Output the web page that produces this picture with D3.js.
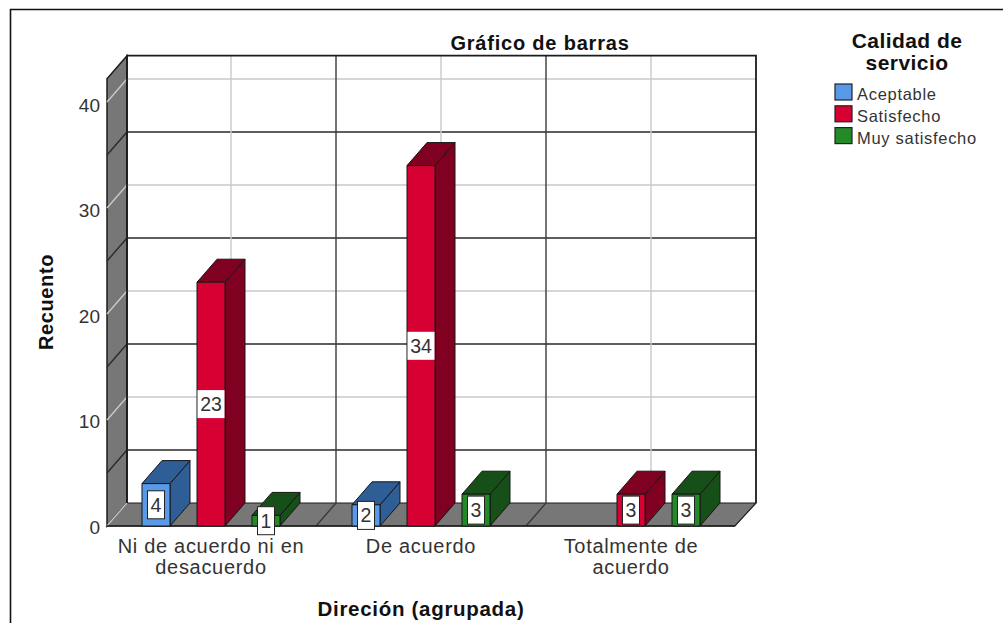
<!DOCTYPE html>
<html><head><meta charset="utf-8">
<script src="https://cdnjs.cloudflare.com/ajax/libs/d3/7.8.5/d3.min.js"></script>
<style>html,body{margin:0;padding:0;background:#fff;overflow:hidden}svg{display:block}text{font-family:"Liberation Sans",Arial,sans-serif}</style>
</head><body><svg id="c" width="1003" height="623"></svg>
<script>
const categories = ["Ni de acuerdo ni en desacuerdo", "De acuerdo", "Totalmente de acuerdo"];
const categoryLines = [["Ni de acuerdo ni en", "desacuerdo"], ["De acuerdo"], ["Totalmente de", "acuerdo"]];
const seriesNames = ["Aceptable", "Satisfecho", "Muy satisfecho"];
const aceptable = [4, 2, null];
const satisfecho = [23, 34, 3];
const muySatisfecho = [1, 3, 3];
const seriesValues = [aceptable, satisfecho, muySatisfecho];
const frontColors = ["#5899E8", "#D70033", "#248A28"];
const sideColors = ["#2F5D96", "#7F0020", "#174F18"];
const yTicks = [0, 10, 20, 30, 40];
const gridValues = [5, 10, 15, 20, 25, 30, 35, 40];

const svg = d3.select("#c");
const DX = 20, DY = -23, BARW = 28;
const y = d3.scaleLinear().domain([0, 40]).range([526, 102]);
const yLabels = d3.scaleLinear().domain([0, 40]).range([527, 105]);
const x = d3.scaleBand().domain(categories).range([106, 736]);
const xs = d3.scaleBand().domain(seriesNames).range([-82.5, 82.5]);
const yMax = 42.2, left = 107, right = 735;
const ink = "#1c1c1c";

// outer frame
svg.append("path").attr("d", "M10.5,623V9.5H1003").attr("fill", "none").attr("stroke", "#111").attr("stroke-width", 1.6);

// side wall and floor
const wall = [[left, y(0)], [left + DX, y(0) + DY], [left + DX, y(yMax) + DY], [left, y(yMax)]];
svg.append("polygon").attr("points", wall.join(" ")).attr("fill", "#777").attr("stroke", ink).attr("stroke-width", 1.5);
const floor = [[left, y(0)], [left + DX, y(0) + DY], [right + DX + 1, y(0) + DY], [right, y(0)]];
svg.append("polygon").attr("points", floor.join(" ")).attr("fill", "#777").attr("stroke", ink).attr("stroke-width", 1.2);

// horizontal gridlines: back wall and side wall
const gridColor = v => v % 10 === 0 ? "#c9c9c9" : "#2a2a2a";
const g = svg.append("g").attr("fill", "none");
[0].concat(gridValues).forEach(v => {
  g.append("path").attr("d", `M${left},${y(v)}L${left + DX},${y(v) + DY}` + (v ? `H${right + DX + 1}` : ""))
    .attr("stroke", gridColor(v)).attr("stroke-width", 1.4);
});
// vertical gridlines: band centres are light, band edges are dark
const vLines = [];
categories.forEach((c, i) => {
  vLines.push({ x: x(c) + x.bandwidth() / 2, light: true });
  if (i < categories.length - 1) vLines.push({ x: x(c) + x.bandwidth(), light: false });
});
vLines.forEach(d => {
  g.append("path").attr("d", `M${d.x},${y(0)}L${d.x + DX},${y(0) + DY}V${y(yMax) + DY}`)
    .attr("stroke", d.light ? "#c9c9c9" : "#3a3a3a").attr("stroke-width", 1.4);
});
// back frame
svg.append("path").attr("d", `M${left + DX},${y(0) + DY}V${y(yMax) + DY}H${right + DX + 1}V${y(0) + DY}`)
  .attr("fill", "none").attr("stroke", ink).attr("stroke-width", 1.8);
svg.append("path").attr("d", `M${left},${y(0)}H${right}`).attr("stroke", ink).attr("stroke-width", 1.4);

// bars
const bars = [];
seriesNames.forEach((s, si) => categories.forEach((c, ci) => {
  const v = seriesValues[si][ci];
  if (v != null) bars.push({ s, si, c, v, x0: x(c) + x.bandwidth() / 2 + xs(s) + xs.bandwidth() / 2 - BARW / 2 });
}));
const barG = svg.append("g").selectAll("g").data(bars).join("g")
  .attr("stroke", "#161616").attr("stroke-width", 1).attr("stroke-linejoin", "round");
barG.append("polygon").attr("fill", d => sideColors[d.si])
  .attr("points", d => {
    const a = d.x0 + BARW, t = y(d.v), b = y(0);
    return [[a, t], [a + DX, t + DY], [a + DX, b + DY], [a, b]].join(" ");
  });
barG.append("polygon").attr("fill", d => sideColors[d.si])
  .attr("points", d => {
    const a = d.x0, t = y(d.v);
    return [[a, t], [a + DX, t + DY], [a + BARW + DX, t + DY], [a + BARW, t]].join(" ");
  });
barG.append("rect").attr("x", d => d.x0).attr("y", d => y(d.v))
  .attr("width", BARW).attr("height", d => y(0) - y(d.v)).attr("fill", d => frontColors[d.si]);

// value labels
const lab = svg.append("g").selectAll("g").data(bars).join("g")
  .attr("transform", d => `translate(${d.x0 + BARW / 2},${(y(d.v) + y(0)) / 2})`);
lab.append("rect").attr("x", d => d.v > 9 ? -13.5 : -8.5).attr("y", -14)
  .attr("width", d => d.v > 9 ? 27 : 17).attr("height", 28)
  .attr("fill", "#fff").attr("stroke", d => d.v > 9 ? "none" : "#222").attr("stroke-width", 1);
lab.append("text").attr("text-anchor", "middle").attr("dy", "0.36em")
  .attr("font-size", 19.5).attr("fill", "#333").text(d => d.v);

// axes
const yAxis = svg.append("g").attr("transform", `translate(${left},0)`)
  .call(d3.axisLeft(yLabels).tickValues(yTicks).tickSize(0).tickPadding(7));
yAxis.select(".domain").remove();
yAxis.selectAll("text").attr("font-size", 19).attr("fill", "#333").style("font-family", '"Liberation Sans",Arial,sans-serif');

const xAxis = svg.append("g").attr("transform", `translate(0,${y(0)})`)
  .call(d3.axisBottom(x).tickSize(0).tickPadding(0));
xAxis.select(".domain").remove();
xAxis.selectAll("text").each(function (d, i) {
  const t = d3.select(this).text(null).attr("font-size", 20).attr("fill", "#333").attr("y", 0)
    .attr("dy", null).attr("letter-spacing", 0.7).style("font-family", '"Liberation Sans",Arial,sans-serif');
  categoryLines[i].forEach((line, k) => t.append("tspan").attr("x", 0).attr("y", 27 + k * 21).text(line));
});

// titles
const bold = (txt, px, py, size, ls) => svg.append("text").attr("x", px).attr("y", py).attr("text-anchor", "middle")
  .attr("font-weight", "bold").attr("font-size", size).attr("letter-spacing", ls).attr("fill", "#111").text(txt);
bold("Gráfico de barras", 540, 50, 20, 0.8);
bold("Direción (agrupada)", 421, 616, 20.5, 0.7);
bold("Recuento", 0, 0, 20, 0.6).attr("transform", "translate(53,302) rotate(-90)");
bold("Calidad de", 907, 48, 21, 0.45);
bold("servicio", 907, 70, 21, 0.45);

// legend
const leg = svg.append("g").selectAll("g").data(seriesNames).join("g")
  .attr("transform", (d, i) => `translate(835,${84 + i * 21.8})`);
leg.append("rect").attr("width", 17).attr("height", 16).attr("fill", (d, i) => frontColors[i])
  .attr("stroke", "#222").attr("stroke-width", 1.2);
leg.append("text").attr("x", 22).attr("y", 16).attr("font-size", 16.5).attr("letter-spacing", 0.7)
  .attr("fill", "#333").text(d => d);
</script></body></html>
